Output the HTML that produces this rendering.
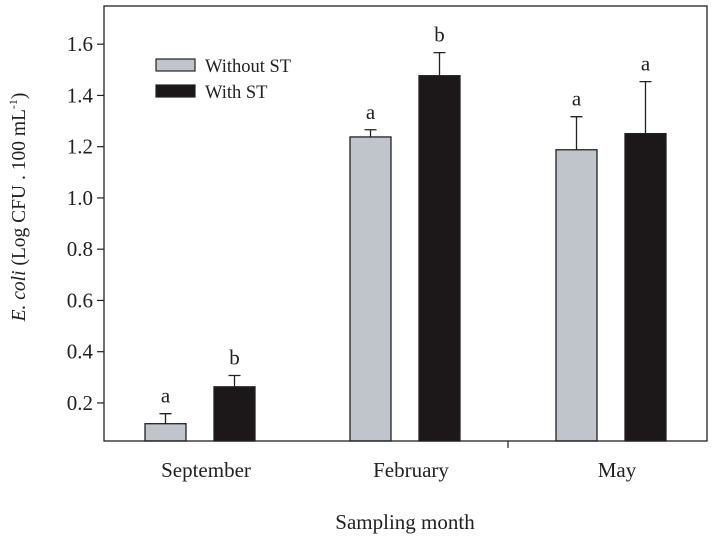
<!DOCTYPE html>
<html><head><meta charset="utf-8"><style>
body{margin:0;background:#fff}
svg text{font-family:"Liberation Serif",serif;fill:#222}
</style></head><body>
<svg id="chart" width="714" height="535" viewBox="0 0 714 535" xmlns="http://www.w3.org/2000/svg">
<g id="plot"></g>
</svg>
<script>
const categories=["September","February","May"];
const seriesNames=["Without ST","With ST"];
const withoutST=[0.119,1.238,1.188];
const withoutSTErr=[0.039,0.028,0.129];
const withST=[0.263,1.477,1.251];
const withSTErr=[0.044,0.090,0.203];
const withoutSTLetters=["a","a","a"];
const withSTLetters=["b","b","a"];
const yTicks=[0.2,0.4,0.6,0.8,1.0,1.2,1.4,1.6];
const yTickLabels=["0.2","0.4","0.6","0.8","1.0","1.2","1.4","1.6"];

const NS="http://www.w3.org/2000/svg";
const L=104,R=707,T=6,B=441;
const yMin=0.0515,yMax=1.749;
const y=v=>B-(v-yMin)/(yMax-yMin)*(B-T);
const groupCenters=[200,405,611];
const x=i=>groupCenters[i];
const g=document.getElementById('plot');
function mk(tag,attrs,parent){const e=document.createElementNS(NS,tag);for(const k in attrs)e.setAttribute(k,attrs[k]);(parent||g).appendChild(e);return e;}

const series=[{v:withoutST,e:withoutSTErr,l:withoutSTLetters,fill:"#c0c4cb",off:-34.5,n:"without-st"},
{v:withST,e:withSTErr,l:withSTLetters,fill:"#1c1718",off:34.5,n:"with-st"}];
const bw=41;
series.forEach(s=>{
  categories.forEach((c,i)=>{
    const cx=x(i)+s.off;
    const top=y(s.v[i]);
    const r=mk('rect',{x:cx-bw/2,y:top,width:bw,height:B-top,fill:s.fill,stroke:"#222","stroke-width":1.3});
    
    
    const et=y(s.v[i]+s.e[i]);
    const eb=mk('path',{d:`M${cx},${top}V${et}M${cx-6},${et}H${cx+6}`,stroke:"#222","stroke-width":1.3,fill:"none"});
    
    
    const t=mk('text',{x:cx,y:et-11,"text-anchor":"middle","font-size":21});
    t.textContent=s.l[i];
    
    
  });
});
const fr=mk('rect',{x:L,y:T,width:R-L,height:B-T,fill:"none",stroke:"#222","stroke-width":1.3});


yTicks.forEach((v,i)=>{
  const ty=y(v);
  const tk=mk('line',{x1:L-7,x2:L,y1:ty,y2:ty,stroke:"#222","stroke-width":1.2});
  
  
  const t=mk('text',{x:L-11,y:ty+7,"text-anchor":"end","font-size":21});
  t.textContent=yTickLabels[i];
  
  
});
const bt=mk('line',{x1:508,x2:508,y1:B,y2:B+7,stroke:"#222","stroke-width":1.2});


categories.forEach((c,i)=>{
  const t=mk('text',{x:x(i)+6,y:477,"text-anchor":"middle","font-size":21});
  t.textContent=c;
  
  
});
</script>
<svg width="714" height="535" style="position:absolute;left:0;top:0" xmlns="http://www.w3.org/2000/svg">
<text x="405" y="529" text-anchor="middle" font-size="21">Sampling month</text>
<text transform="translate(25,207) rotate(-90)" text-anchor="middle" font-size="19.5"><tspan font-style="italic">E. coli</tspan> (Log CFU . 100 mL<tspan font-size="12" dy="-8">-1</tspan><tspan dy="8">)</tspan></text>
<g>
<rect x="156" y="59" width="39" height="12" fill="#c0c4cb" stroke="#222" stroke-width="1.2"/>
<text x="205" y="72" font-size="18.5">Without ST</text>
<rect x="156" y="85" width="39" height="12" fill="#1c1718" stroke="#222" stroke-width="1.2"/>
<text x="205" y="98" font-size="18.5">With ST</text>
</g>
</svg>
</body></html>
